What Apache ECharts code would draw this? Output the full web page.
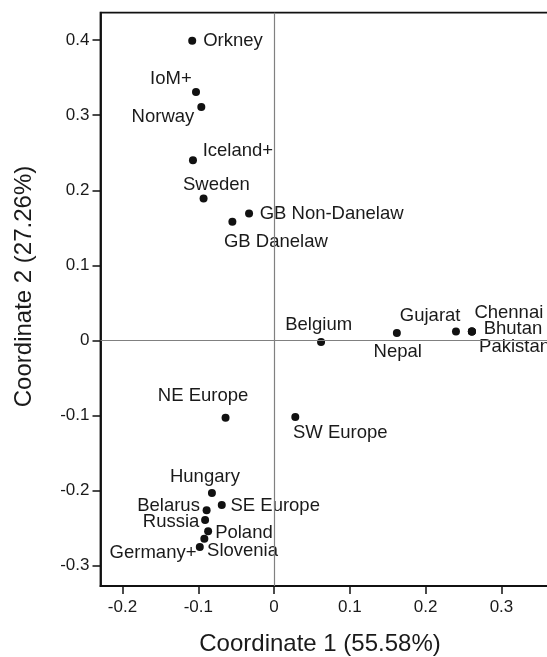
<!DOCTYPE html>
<html>
<head>
<meta charset="utf-8">
<script src="https://cdn.jsdelivr.net/npm/echarts@6/dist/echarts.min.js"></script>
<style>
  html, body { margin: 0; padding: 0; background: #fff; }
  #chart { width: 547px; height: 657px; }
</style>
</head>
<body>
<div id="chart"></div>
<script>
// ---- data ----
const names = ['Orkney','IoM+','Norway','Iceland+','Sweden','GB Non-Danelaw','GB Danelaw',
  'Belgium','Nepal','Gujarat','Chennai','Bhutan','Pakistan','NE Europe','SW Europe',
  'Hungary','SE Europe','Belarus','Russia','Poland','Slovenia','Germany+'];
const coord1 = [-0.108,-0.103,-0.096,-0.107,-0.093,-0.033,-0.055,
  0.062,0.162,0.240,0.261,0.261,0.261,-0.064,0.028,
  -0.082,-0.069,-0.089,-0.091,-0.087,-0.092,-0.098];
const coord2 = [0.399,0.331,0.311,0.240,0.189,0.169,0.158,
  -0.002,0.010,0.012,0.012,0.012,0.012,-0.103,-0.102,
  -0.203,-0.219,-0.226,-0.239,-0.254,-0.264,-0.275];
const xTicks = [-0.2,-0.1,0,0.1,0.2,0.3];
const yTicks = [-0.3,-0.2,-0.1,0,0.1,0.2,0.3,0.4];
const xTitle = 'Coordinate 1 (55.58%)';
const yTitle = 'Coordinate 2 (27.26%)';

// ---- label placement (layout only) ----
const labelPlace = {
  'Orkney': ['right', 2, 0],
  'IoM+': ['left', 4.7, -12.7],
  'Norway': ['left', 2, 10.2],
  'Iceland+': ['right', 0.7, -9.7],
  'Sweden': ['top', 12.8, 4.5],
  'GB Non-Danelaw': ['right', 1.6, 0.3],
  'GB Danelaw': ['bottom', 43.5, 1.3],
  'Belgium': ['top', -2.4, 1.2],
  'Nepal': ['bottom', 0.9, 0.2],
  'Gujarat': ['top', -25.8, 3.2],
  'Chennai': ['right', -6.5, -18.4],
  'Bhutan': ['right', 2.8, -2.4],
  'Pakistan': ['right', -1.8, 15.3],
  'NE Europe': ['top', -22.5, -3.5],
  'SW Europe': ['bottom', 45, -2.6],
  'Hungary': ['top', -7, 2.5],
  'SE Europe': ['right', -0.3, 0.6],
  'Belarus': ['left', 2.3, -4.7],
  'Russia': ['left', 3.3, 2],
  'Poland': ['right', -2, 1.7],
  'Slovenia': ['right', -6.3, 12.3],
  'Germany+': ['left', 5.7, 6]
};

const FONT = '"Liberation Sans", Arial, Helvetica, sans-serif';
const TEXT = '#1a1a1a';

const points = names.map((n, i) => {
  const p = labelPlace[n];
  return {
    name: n,
    value: [coord1[i], coord2[i]],
    label: { position: p[0], offset: [p[1], p[2]] }
  };
});

const fmt = v => (Math.abs(v) < 1e-9 ? '0' : v.toFixed(1));

const chart = echarts.init(document.getElementById('chart'), null, { renderer: 'canvas' });
chart.setOption({
  animation: false,
  backgroundColor: '#fff',
  grid: {
    left: 100.5, top: 12.7, width: 454, height: 573.3,
    outerBoundsMode: 'none', containLabel: false,
    show: true, borderColor: '#111', borderWidth: 1.8, backgroundColor: 'transparent'
  },
  xAxis: {
    type: 'value', min: -0.229, max: 0.37,
    axisLine: { show: true, onZero: false, lineStyle: { color: '#111', width: 1.8 } },
    axisTick: { show: true, inside: false, length: 8, customValues: xTicks, lineStyle: { color: '#111', width: 1.5 } },
    axisLabel: { customValues: xTicks, formatter: fmt, margin: 13, fontSize: 17, fontFamily: FONT, color: TEXT },
    splitLine: { show: false }
  },
  yAxis: {
    type: 'value', min: -0.3269, max: 0.4365,
    axisLine: { show: true, onZero: false, lineStyle: { color: '#111', width: 1.8 } },
    axisTick: { show: true, inside: false, length: 8, customValues: yTicks, lineStyle: { color: '#111', width: 1.5 } },
    axisLabel: { customValues: yTicks, formatter: fmt, margin: 11, fontSize: 17, fontFamily: FONT, color: TEXT },
    splitLine: { show: false }
  },
  graphic: [
    {
      type: 'text', x: 320, y: 644, silent: true,
      style: { text: xTitle, fontSize: 24, fontFamily: FONT, fill: TEXT, align: 'center', verticalAlign: 'middle',
               textAlign: 'center', textVerticalAlign: 'middle' }
    },
    {
      type: 'text', x: 24, y: 286.5, rotation: Math.PI / 2, silent: true,
      style: { text: yTitle, fontSize: 24, fontFamily: FONT, fill: TEXT, align: 'center', verticalAlign: 'middle',
               textAlign: 'center', textVerticalAlign: 'middle' }
    }
  ],
  series: [{
    type: 'scatter',
    symbol: 'circle',
    symbolSize: 8,
    itemStyle: { color: '#111', opacity: 1 },
    label: {
      show: true, formatter: '{b}', distance: 5,
      fontSize: 18.5, fontFamily: FONT, color: TEXT, opacity: 1
    },
    data: points,
    markLine: {
      silent: true, symbol: 'none', animation: false,
      label: { show: false },
      lineStyle: { color: '#808080', width: 1.2, type: 'solid', opacity: 1 },
      emphasis: { disabled: true },
      data: [{ xAxis: 0 }, { yAxis: 0 }]
    },
    z: 3
  }]
});
</script>
</body>
</html>
